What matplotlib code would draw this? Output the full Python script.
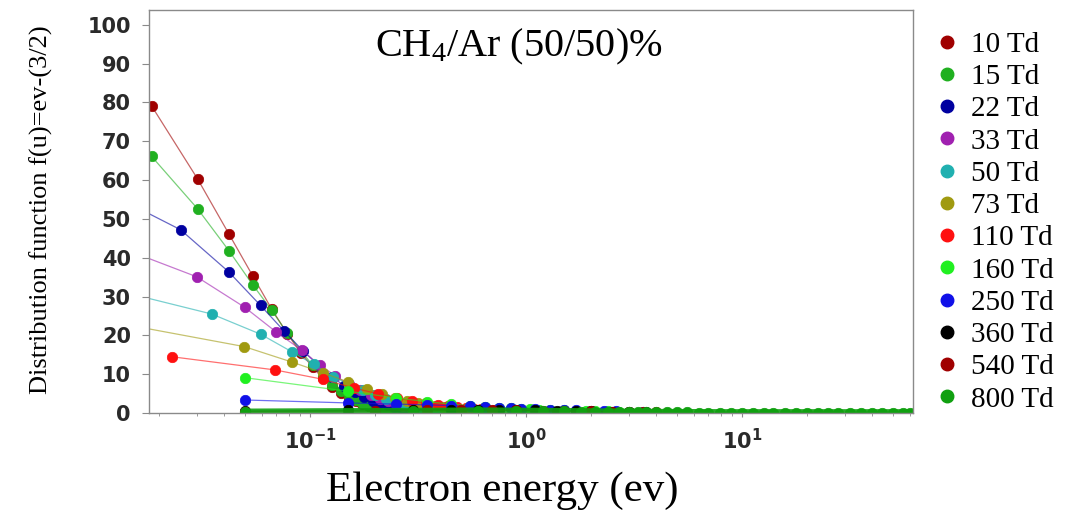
import matplotlib
matplotlib.use("Agg")
import matplotlib.pyplot as plt
from matplotlib.lines import Line2D

plt.rcParams['font.family'] = 'DejaVu Sans'
plt.rcParams['mathtext.fontset'] = 'custom'
plt.rcParams['mathtext.rm'] = 'Liberation Serif'
plt.rcParams['mathtext.default'] = 'regular'

# reduced field labels and colours
labels = ['10 Td', '15 Td', '22 Td', '33 Td', '50 Td', '73 Td',
          '110 Td', '160 Td', '250 Td', '360 Td', '540 Td', '800 Td']
colors = ['#a00000', '#20b020', '#0000a0', '#a020b0', '#20b0b0', '#a09a10',
          '#ff1010', '#20f020', '#1010e8', '#000000', '#a00000', '#10a010']

# electron energy (eV) and distribution values
e_10 = [0.0185, 0.0302, 0.0422, 0.0544, 0.0665, 0.0786, 0.0907, 0.103, 0.115, 0.127, 0.139,
        0.151, 0.163, 0.175, 0.187, 0.199, 0.211, 0.223, 0.235, 0.247, 0.259, 0.271]
f_10 = [79.1, 60.3, 46.1, 35.3, 26.8, 20.4, 15.5, 11.8, 8.9, 6.8, 5.2,
        3.9, 3.0, 2.3, 1.7, 1.3, 1.0, 0.8, 0.6, 0.45, 0.35, 0.27]

e_15 = [0.0185, 0.0302, 0.0422, 0.0544, 0.0665, 0.0786, 0.0907, 0.103, 0.115, 0.127, 0.139,
        0.151, 0.163, 0.175, 0.187, 0.199, 0.211, 0.223, 0.235, 0.247, 0.259, 0.271]
f_15 = [66.1, 52.6, 41.8, 33.0, 26.5, 20.6, 16.0, 12.3, 9.5, 7.3, 5.6,
        4.3, 3.3, 2.5, 1.9, 1.5, 1.1, 0.85, 0.65, 0.5, 0.38, 0.3]

e_22 = [0.0082, 0.0252, 0.0422, 0.0591, 0.076, 0.093, 0.110, 0.127, 0.144, 0.161, 0.178,
        0.195, 0.212, 0.229, 0.246, 0.263, 0.280, 0.297, 0.314, 0.331]
f_22 = [61.0, 47.2, 36.3, 27.7, 21.1, 16.0, 12.2, 9.3, 7.0, 5.3, 4.0,
        3.1, 2.5, 2.0, 1.6, 1.3, 1.0, 0.8, 0.65, 0.5]

e_33 = [0.0099, 0.0299, 0.050, 0.0697, 0.0916, 0.111, 0.131, 0.151, 0.171, 0.191, 0.211,
        0.231, 0.251, 0.271, 0.291, 0.311, 0.331, 0.351, 0.371]
f_33 = [45.3, 35.1, 27.2, 20.9, 16.2, 12.4, 9.6, 7.4, 5.8, 4.6, 3.7,
        3.0, 2.4, 1.9, 1.55, 1.25, 1.0, 0.8, 0.65]

e_50 = [0.0111, 0.0351, 0.0591, 0.0823, 0.1044, 0.128, 0.152, 0.176, 0.200, 0.224, 0.248,
        0.272, 0.296, 0.320, 0.344, 0.368, 0.392, 0.416]
f_50 = [32.4, 25.5, 20.3, 15.8, 12.5, 9.4, 7.3, 5.8, 4.6, 3.7, 3.0,
        2.4, 2.0, 1.65, 1.35, 1.1, 0.9, 0.75]

e_73 = [0.0167, 0.0497, 0.0828, 0.1145, 0.150, 0.183, 0.216, 0.249, 0.282, 0.315, 0.348,
        0.381, 0.414, 0.447, 0.480, 0.513]
f_73 = [22.0, 17.1, 13.1, 10.4, 8.0, 6.2, 4.9, 3.9, 3.1, 2.6, 2.1,
        1.75, 1.45, 1.2, 1.0, 0.85]

e_110 = [0.0229, 0.0689, 0.1145, 0.160, 0.206, 0.252, 0.298, 0.344, 0.390, 0.436, 0.482,
         0.528, 0.574, 0.620, 0.666, 0.712]
f_110 = [14.5, 11.1, 8.7, 6.4, 5.0, 3.9, 3.1, 2.5, 2.1, 1.75, 1.5,
         1.3, 1.1, 0.95, 0.85, 0.75]

e_160 = [0.05, 0.15, 0.25, 0.35, 0.45, 0.55, 0.65, 0.75, 0.85, 0.95, 1.05,
         1.15, 1.3, 1.5, 1.7, 1.9, 2.1, 2.4, 2.7, 3.0]
f_160 = [9.1, 5.6, 3.9, 2.9, 2.3, 1.9, 1.6, 1.4, 1.2, 1.05, 0.95,
         0.85, 0.75, 0.65, 0.55, 0.5, 0.45, 0.4, 0.35, 0.3]

e_250 = [0.05, 0.15, 0.25, 0.35, 0.45, 0.55, 0.65, 0.75, 0.85, 0.95, 1.1,
         1.3, 1.5, 1.7, 2.0, 2.3, 2.6, 3.0, 3.5]
f_250 = [3.35, 2.6, 2.3, 2.1, 1.9, 1.7, 1.5, 1.35, 1.2, 1.1, 0.95,
         0.85, 0.75, 0.65, 0.55, 0.5, 0.42, 0.35, 0.3]

e_360 = [0.05, 0.15, 0.3, 0.45, 0.6, 0.75, 0.9, 1.1, 1.4, 1.7, 2.0, 2.5, 3.0, 3.6]
f_360 = [0.5, 0.7, 0.9, 0.9, 0.85, 0.8, 0.75, 0.65, 0.55, 0.48, 0.42, 0.35, 0.3, 0.25]

e_540 = [0.05, 0.2, 0.35, 0.5, 0.7, 0.9, 1.2, 1.5, 2.0, 2.5, 3.0, 3.5, 4.0]
f_540 = [0.3, 0.5, 0.7, 0.75, 0.7, 0.65, 0.55, 0.48, 0.4, 0.33, 0.28, 0.24, 0.2]

e_800 = [0.05, 0.3, 0.6, 0.9, 1.2, 1.5, 1.8, 2.1, 2.4, 2.7, 3.0, 3.3, 3.6, 4.0,
         4.5, 5.0, 5.6, 6.3, 7.0, 7.9, 8.9, 10, 11.2, 12.6, 14, 15.8, 17.8, 20,
         22.4, 25, 28, 31.6, 35.5, 40, 44.7, 50, 56, 60]
f_800 = [0.25, 0.45, 0.55, 0.5, 0.45, 0.4, 0.36, 0.32, 0.29, 0.26, 0.24, 0.22, 0.2, 0.18,
         0.16, 0.15, 0.14, 0.13, 0.12, 0.11, 0.1, 0.1, 0.1, 0.1, 0.1, 0.1, 0.1, 0.1,
         0.1, 0.1, 0.1, 0.1, 0.1, 0.1, 0.1, 0.1, 0.1, 0.1]

energies = [e_10, e_15, e_22, e_33, e_50, e_73, e_110, e_160, e_250, e_360, e_540, e_800]
values = [f_10, f_15, f_22, f_33, f_50, f_73, f_110, f_160, f_250, f_360, f_540, f_800]

fig = plt.figure(figsize=(10.66, 5.16), dpi=100)
ax = fig.add_axes([0.1398, 0.1996, 0.7167, 0.781])

handles = []
for i, (x, y, c, lab) in enumerate(zip(energies, values, colors, labels)):
    # the 800 Td trace sits on the axis as a thick band
    lw = 5 if i == len(labels) - 1 else 0.9
    ax.plot(x, y, '-', color=c, lw=lw, alpha=0.6 if lw < 2 else 0.9)
    ax.plot(x, y, 'o', color=c, ms=7.5, mec=c, mew=0.5)
    handles.append(Line2D([], [], ls='none', marker='o', color=c, ms=9, label=lab))

ax.set_xscale('log')
ax.set_xlim(0.018, 62)
ax.set_ylim(0, 103.8)
ax.set_yticks(range(0, 101, 10))

for s in ax.spines.values():
    s.set_color('#8a8a8a')
    s.set_linewidth(1.0)
ax.tick_params(axis='y', which='major', length=5, color='#8a8a8a', labelsize=15, pad=8)
ax.tick_params(axis='x', which='major', length=3, color='#8a8a8a', labelsize=15, pad=8)
ax.tick_params(axis='x', which='minor', length=2, color='#8a8a8a')
for t in ax.get_yticklabels() + ax.get_xticklabels():
    t.set_fontweight('bold')
    t.set_color('#2a2a2a')

ax.text(0.484, 0.958, r'CH$_{4}$/Ar (50/50)%', transform=ax.transAxes,
        ha='center', va='top', family='Liberation Serif', fontsize=29)

ax.set_xlabel('Electron energy (ev)', family='Liberation Serif', fontsize=31)
ax.xaxis.set_label_coords(0.462, -0.145)
ax.set_ylabel('Distribution function f(u)=ev-(3/2)', family='Liberation Serif', fontsize=19)
ax.yaxis.set_label_coords(-0.126, 0.504)

ax.legend(handles=handles, loc='upper left', bbox_to_anchor=(1.005, 0.99), frameon=False,
          prop={'family': 'Liberation Serif', 'size': 21}, labelspacing=0.2,
          handlelength=0.9, handletextpad=0.35, borderaxespad=0.2)

fig.savefig('out.png', dpi=100)
